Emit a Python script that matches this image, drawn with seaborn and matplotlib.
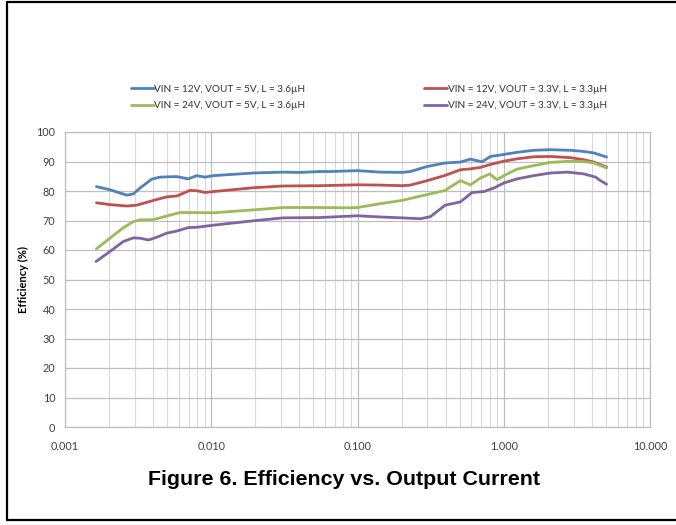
"""Efficiency vs. output current, four VIN/VOUT combinations."""

import matplotlib
matplotlib.use("Agg")
import matplotlib.pyplot as plt
from matplotlib.lines import Line2D
from matplotlib.ticker import FixedLocator, FuncFormatter, LogLocator
import pandas as pd
import seaborn as sns

# ---------------------------------------------------------------------------
# Data, current in A, efficiency in %
# ---------------------------------------------------------------------------
labels = [
    "VIN = 12V, VOUT = 5V, L = 3.6µH",
    "VIN = 12V, VOUT = 3.3V, L = 3.3µH",
    "VIN = 24V, VOUT = 5V, L = 3.6µH",
    "VIN = 24V, VOUT = 3.3V, L = 3.3µH",
]
colors = ["#4F81BD", "#C0504D", "#9BBB59", "#8064A2"]

i_12v_5v = [0.00164, 0.00203, 0.00264, 0.00293, 0.00326, 0.00391, 0.00446,
            0.00579, 0.00697, 0.00794, 0.00906, 0.0103, 0.0194, 0.0310,
            0.0404, 0.0553, 0.065, 0.100, 0.143, 0.201, 0.230, 0.299, 0.398,
            0.505, 0.592, 0.711, 0.811, 0.948, 1.23, 1.60, 2.09, 2.86, 3.53,
            4.13, 5.05]
eff_12v_5v = [81.5, 80.4, 78.6, 79.0, 81.0, 84.0, 84.7, 84.9, 84.1, 85.2,
              84.7, 85.2, 86.1, 86.4, 86.3, 86.6, 86.6, 86.9, 86.4, 86.3,
              86.6, 88.3, 89.5, 89.8, 90.8, 89.9, 91.7, 92.2, 93.1, 93.8,
              94.0, 93.8, 93.4, 92.9, 91.5]

i_12v_33v = [0.00164, 0.00203, 0.00264, 0.00309, 0.00402, 0.00495, 0.00579,
             0.00627, 0.00714, 0.00794, 0.00906, 0.0103, 0.0194, 0.0310,
             0.0553, 0.100, 0.143, 0.201, 0.230, 0.299, 0.398, 0.505, 0.592,
             0.692, 0.811, 1.00, 1.23, 1.60, 2.09, 2.86, 3.53, 4.13, 5.05]
eff_12v_33v = [76.0, 75.4, 74.9, 75.2, 76.8, 78.0, 78.3, 79.0, 80.2, 80.1,
               79.5, 79.8, 81.1, 81.7, 81.8, 82.1, 82.0, 81.8, 82.0, 83.5,
               85.3, 87.2, 87.5, 88.0, 89.0, 90.1, 90.9, 91.6, 91.7, 91.3,
               90.6, 89.8, 88.1]

i_24v_5v = [0.00164, 0.00203, 0.00251, 0.00293, 0.00326, 0.00402, 0.00495,
            0.00611, 0.00794, 0.0103, 0.0194, 0.0310, 0.0553, 0.0891, 0.100,
            0.143, 0.201, 0.299, 0.398, 0.455, 0.505, 0.592, 0.692, 0.802,
            0.899, 1.00, 1.23, 1.60, 2.09, 2.86, 3.53, 4.13, 5.05]
eff_24v_5v = [60.4, 64.0, 67.6, 69.6, 70.2, 70.3, 71.5, 72.7, 72.7, 72.6,
              73.6, 74.4, 74.4, 74.3, 74.4, 75.7, 76.8, 78.8, 80.2, 82.1,
              83.5, 82.1, 84.4, 85.8, 83.8, 85.2, 87.4, 88.6, 89.7, 90.1,
              90.0, 89.5, 87.8]

i_24v_33v = [0.00163, 0.00203, 0.00251, 0.00293, 0.00326, 0.00372, 0.00423,
             0.00495, 0.00579, 0.00697, 0.00794, 0.0103, 0.0194, 0.0310,
             0.0553, 0.100, 0.143, 0.201, 0.269, 0.315, 0.398, 0.505, 0.607,
             0.729, 0.855, 1.00, 1.23, 1.60, 2.09, 2.72, 3.53, 4.25, 4.59,
             5.05]
eff_24v_33v = [56.1, 59.5, 62.9, 64.1, 64.0, 63.4, 64.3, 65.7, 66.4, 67.6,
               67.7, 68.4, 69.9, 70.9, 71.0, 71.6, 71.2, 70.9, 70.6, 71.3,
               75.2, 76.3, 79.5, 79.8, 81.0, 82.7, 84.1, 85.2, 86.1, 86.4,
               85.8, 84.7, 83.5, 82.3]

x_ticks = [0.001, 0.01, 0.1, 1, 10]
y_ticks = list(range(0, 101, 10))

# ---------------------------------------------------------------------------
# Long-form table for seaborn
# ---------------------------------------------------------------------------
series = [(i_12v_5v, eff_12v_5v), (i_12v_33v, eff_12v_33v),
          (i_24v_5v, eff_24v_5v), (i_24v_33v, eff_24v_33v)]
frames = []
for lab, (cur, eff) in zip(labels, series):
    frames.append(pd.DataFrame({"current": cur, "eff": eff, "series": lab}))
df = pd.concat(frames, ignore_index=True)

sns.set_style("white")
plt.rcParams["font.family"] = ["Lato", "DejaVu Sans"]

fig = plt.figure(figsize=(6.76, 5.25), dpi=100)
ax = fig.add_axes([65 / 676, 1 - 427 / 525, 585 / 676, 295 / 525])
ax.set_xscale("log")

sns.lineplot(
    data=df, x="current", y="eff", hue="series",
    hue_order=labels, palette=dict(zip(labels, colors)),
    estimator=None, sort=False, lw=2.0, ax=ax,
)

handles, labs = ax.get_legend_handles_labels()
ax.get_legend().remove()
# two legend columns placed separately: (blue, green) and (red, purple)
leg_kw = dict(loc="center left", frameon=False, fontsize=7.2,
              handlelength=2.3, handletextpad=0.05, labelspacing=0.8,
              borderpad=0, labelcolor="#333333")
for cols, x0 in [((0, 2), 126 / 676), ((1, 3), 419 / 676)]:
    fig.legend([handles[k] for k in cols], [labs[k] for k in cols],
               bbox_to_anchor=(x0, 1 - 97.5 / 525), **leg_kw)

# axes, grid
ax.set_xlim(0.001, 10)
ax.set_ylim(0, 100)
ax.xaxis.set_major_locator(FixedLocator(x_ticks))
ax.xaxis.set_minor_locator(LogLocator(base=10, subs=range(2, 10)))
ax.xaxis.set_major_formatter(FuncFormatter(lambda v, _: f"{v:.3f}"))
ax.set_yticks(y_ticks)
ax.grid(True, which="major", color="#BFBFBF", lw=0.9)
ax.grid(True, which="minor", axis="x", color="#D9D9D9", lw=0.8)
ax.set_axisbelow(True)
for sp in ax.spines.values():
    sp.set_color("#BFBFBF")
    sp.set_linewidth(0.9)
ax.tick_params(which="both", length=0, labelsize=7.8, labelcolor="#404040")
ax.tick_params(axis="x", pad=10)
ax.tick_params(axis="y", pad=7)
ax.set_xlabel("")
ax.set_ylabel("Efficiency (%)", fontsize=8, fontweight="bold", labelpad=5,
              color="black")

# caption
fig.text(0.509, 1 - 485 / 525, "Figure 6. Efficiency vs. Output Current",
         ha="center", va="baseline", fontsize=15.4, fontweight="bold",
         family="Liberation Sans", color="black")

# page border: top, left, bottom
bx = 7 / 676
for seg in [([bx, 1], [1 - 2 / 525] * 2),
            ([bx, bx], [1 - 2 / 525, 1 - 520 / 525]),
            ([bx, 1], [1 - 520 / 525] * 2)]:
    fig.add_artist(Line2D(seg[0], seg[1], color="black", lw=1.6,
                          transform=fig.transFigure))

fig.savefig("out.png", dpi=100)
plt.close(fig)
